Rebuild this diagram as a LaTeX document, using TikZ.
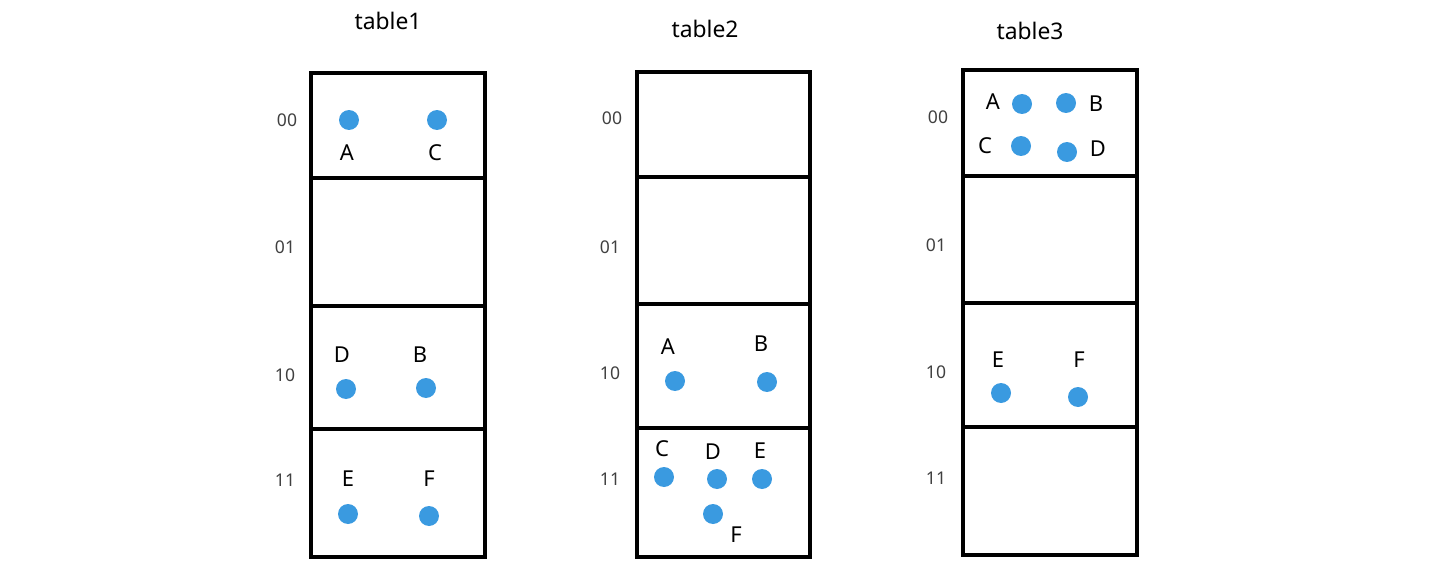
\documentclass[tikz,border=0pt]{standalone}
\usepackage{fontspec}
\setmainfont{Noto Sans}
\definecolor{dotblue}{HTML}{3A9AE0}
\definecolor{rowgray}{HTML}{404040}
\tikzset{
  dot/.style={circle,fill=dotblue,inner sep=0pt,minimum size=0.4cm},
  letter/.style={font=\fontsize{12.5}{14}\selectfont},
  rowlab/.style={font=\fontsize{10}{12}\selectfont,text=rowgray},
  title/.style={font=\fontsize{13}{15}\selectfont},
  cell/.style={line width=2pt}
}
\begin{document}
\begin{tikzpicture}[x=0.02cm,y=-0.02cm]
\useasboundingbox (0,0) rectangle (1455,561);
% table1
\node[title] (t1) at (388,21) {table1};
\draw[cell] (311,73) rectangle (485,557);
\draw[cell] (311,178) -- (485,178);
\draw[cell] (311,306) -- (485,306);
\draw[cell] (311,429) -- (485,429);
\node[rowlab] (t1r00) at (287,120) {00};
\node[rowlab] (t1r01) at (285,247) {01};
\node[rowlab] (t1r10) at (285,375) {10};
\node[rowlab] (t1r11) at (285,480) {11};
\node[dot] (t1a) at (349,120) {};
\node[dot] (t1c) at (437,120) {};
\node[letter] (t1la) at (347,153) {A};
\node[letter] (t1lc) at (435,153) {C};
\node[letter] (t1ld) at (342,355) {D};
\node[letter] (t1lb) at (420,355) {B};
\node[dot] (t1d) at (346,389) {};
\node[dot] (t1b) at (426,388) {};
\node[letter] (t1le) at (348,479) {E};
\node[letter] (t1lf) at (429,479) {F};
\node[dot] (t1e) at (348,514) {};
\node[dot] (t1f) at (429,516) {};
% table2
\node[title] (t2) at (705,29) {table2};
\draw[cell] (637,72) rectangle (810,557);
\draw[cell] (637,177) -- (810,177);
\draw[cell] (637,304) -- (810,304);
\draw[cell] (637,428) -- (810,428);
\node[rowlab] (t2r00) at (612,118) {00};
\node[rowlab] (t2r01) at (610,247) {01};
\node[rowlab] (t2r10) at (610,373) {10};
\node[rowlab] (t2r11) at (610,479) {11};
\node[letter] (t2la) at (668,347) {A};
\node[letter] (t2lb) at (761,344) {B};
\node[dot] (t2a) at (675,381) {};
\node[dot] (t2b) at (767,382) {};
\node[letter] (t2lc) at (662,449) {C};
\node[letter] (t2ld) at (713,452) {D};
\node[letter] (t2le) at (760,451) {E};
\node[dot] (t2c) at (664,477) {};
\node[dot] (t2d) at (717,479) {};
\node[dot] (t2e) at (762,479) {};
\node[dot] (t2f) at (713,514) {};
\node[letter] (t2lf) at (736,535) {F};
% table3
\node[title] (t3) at (1030,31) {table3};
\draw[cell] (963,70) rectangle (1137,555);
\draw[cell] (963,176) -- (1137,176);
\draw[cell] (963,303) -- (1137,303);
\draw[cell] (963,427) -- (1137,427);
\node[rowlab] (t3r00) at (938,117) {00};
\node[rowlab] (t3r01) at (936,245) {01};
\node[rowlab] (t3r10) at (936,372) {10};
\node[rowlab] (t3r11) at (936,478) {11};
\node[letter] (t3la) at (993,102) {A};
\node[dot] (t3a) at (1022,104) {};
\node[dot] (t3b) at (1066,103) {};
\node[letter] (t3lb) at (1096,104) {B};
\node[letter] (t3lc) at (985,146) {C};
\node[dot] (t3c) at (1021,146) {};
\node[dot] (t3d) at (1067,152) {};
\node[letter] (t3ld) at (1098,149) {D};
\node[letter] (t3le) at (998,360) {E};
\node[letter] (t3lf) at (1079,360) {F};
\node[dot] (t3e) at (1001,393) {};
\node[dot] (t3f) at (1078,397) {};
\end{tikzpicture}
\end{document}
